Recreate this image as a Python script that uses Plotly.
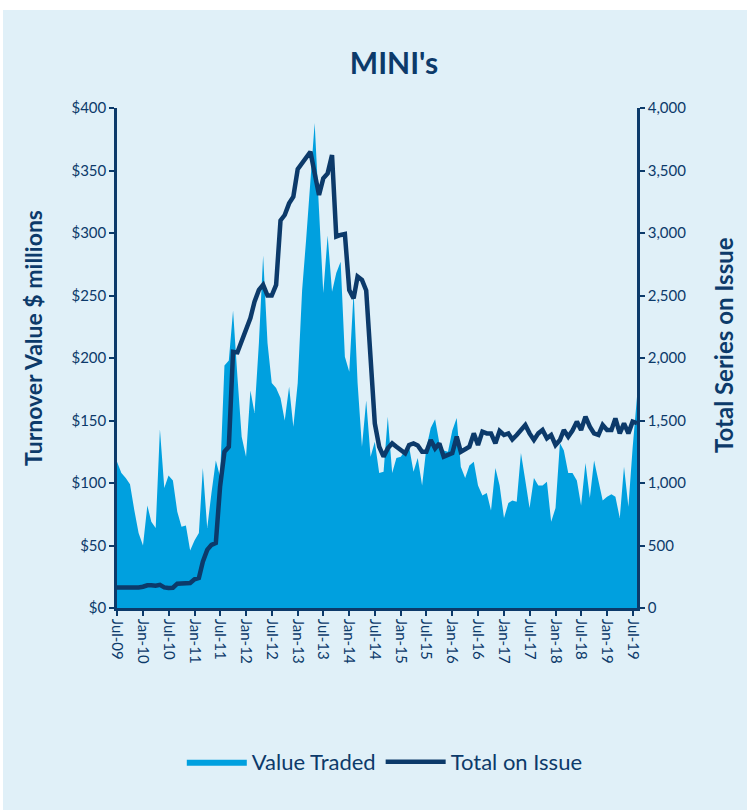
import pandas as pd
import plotly.graph_objects as go

# Monthly observations, Jul-09 .. Aug-19
months = pd.date_range("2009-07-01", periods=122, freq="MS")

value_traded = [
    117, 108, 104, 99, 78, 60, 50, 82, 69, 64, 143, 96, 106, 102, 77, 65, 66, 46, 54, 60,
    112, 64, 92, 118, 105, 194, 198, 238, 185, 137, 121, 174, 156, 212, 282, 212, 180, 176,
    168, 150, 177, 145, 180, 254, 294, 345, 388, 318, 252, 298, 253, 268, 277, 201, 189, 253,
    180, 129, 166,
    121, 133, 108, 109, 153, 108, 120, 121, 126, 129, 109, 120, 98, 128, 144, 151, 132, 126,
    125, 142,
    152, 113, 104, 114, 117, 98, 90, 92, 78, 112, 98, 72, 84, 86, 85, 124, 102, 80, 104, 98, 98,
    101, 69, 80, 132, 126, 108, 108, 102, 82, 116, 88, 118, 102, 86, 89, 91, 89, 72, 113, 81,
    128, 169,
]

total_on_issue = [
    165, 165, 163, 160, 165, 165, 170, 182, 182, 178, 185, 165, 160, 162, 195, 198, 195, 200,
    230, 240,
    370, 465, 505, 520, 970, 1250, 1290, 2050, 2045, 2130, 2225, 2320, 2450, 2545, 2585, 2500,
    2500, 2585, 3100, 3144, 3237, 3291, 3510, 3560, 3600, 3650, 3477, 3304, 3437, 3477, 3624,
    2971, 2984, 2992, 2544, 2477, 2651, 2624, 2540, 2050,
    1477, 1290, 1211, 1277, 1317, 1290, 1260, 1237, 1304, 1317, 1300, 1250, 1250, 1344, 1277,
    1317, 1211, 1224, 1240, 1371, 1250, 1270, 1290, 1397, 1304, 1411, 1397, 1397, 1317, 1416,
    1384, 1397, 1349, 1384, 1420, 1464, 1397, 1344, 1397, 1424, 1357, 1384, 1304, 1344, 1424,
    1371, 1420, 1491, 1424, 1531, 1451, 1397, 1384, 1464, 1424, 1424, 1517, 1397, 1477, 1397,
    1491, 1480,
]

left_ticks = [0, 50, 100, 150, 200, 250, 300, 350, 400]
left_labels = ["$0", "$50", "$100", "$150", "$200", "$250", "$300", "$350", "$400"]
right_ticks = [0, 500, 1000, 1500, 2000, 2500, 3000, 3500, 4000]
right_labels = ["0", "500", "1,000", "1,500", "2,000", "2,500", "3,000", "3,500", "4,000"]

NAVY = "#0C3A6A"
AREA = "#00A0DF"
BG = "#E0F0F8"
FONT = "Lato"

fig = go.Figure()
fig.add_trace(go.Scatter(
    x=months, y=value_traded, name="Value Traded", mode="lines",
    fill="tozeroy", fillcolor=AREA, line=dict(width=0, color=AREA),
    yaxis="y",
))
fig.add_trace(go.Scatter(
    x=months, y=total_on_issue, name="Total on Issue", mode="lines",
    line=dict(width=4.5, color=NAVY), yaxis="y2",
))

axis_common = dict(
    showgrid=False, zeroline=False, showline=True, linecolor=NAVY, linewidth=2.5,
    ticks="outside", ticklen=5, tickwidth=2, tickcolor=NAVY,
    tickfont=dict(size=15, color=NAVY),
)

fig.update_layout(
    width=747, height=810,
    margin=dict(l=117, r=110, t=108, b=202),
    paper_bgcolor=BG, plot_bgcolor=BG,
    font=dict(family=FONT, color=NAVY, size=15),
    title=dict(text="<b>MINI's</b>", x=394 / 747, xref="container", xanchor="center",
               y=1 - 63 / 810, yref="container", yanchor="middle",
               font=dict(size=30, color=NAVY, family=FONT)),
    xaxis=dict(
        type="date", range=[months[0], months[-1]],
        tick0="2009-07-01", dtick="M6", tickformat="%b-%y", tickangle=90,
        **axis_common,
    ),
    yaxis=dict(range=[0, 400], tickvals=left_ticks, ticktext=left_labels, **axis_common),
    yaxis2=dict(range=[0, 4000], tickvals=right_ticks, ticktext=right_labels,
                overlaying="y", side="right", **axis_common),
    legend=dict(orientation="h", x=0.515, xanchor="center", y=-0.308, yanchor="middle",
                font=dict(size=22, color=NAVY), bgcolor="rgba(0,0,0,0)", itemwidth=60),
    showlegend=True,
)

fig.add_annotation(text="<b>Turnover Value $ millions</b>", textangle=-90,
                   xref="paper", yref="paper", x=(33 - 117) / 520, y=(608 - 338) / 500,
                   xanchor="center", yanchor="middle", showarrow=False,
                   font=dict(size=23, color=NAVY, family=FONT))
fig.add_annotation(text="<b>Total Series on Issue</b>", textangle=-90,
                   xref="paper", yref="paper", x=(723 - 117) / 520, y=(608 - 345) / 500,
                   xanchor="center", yanchor="middle", showarrow=False,
                   font=dict(size=24, color=NAVY, family=FONT))

# white page margins around the light-blue panel
fig.add_shape(type="rect", xref="paper", yref="paper", layer="above",
              x0=(0 - 117) / 520, x1=(747 - 117) / 520, y0=(608 - 10) / 500, y1=(608 + 2) / 500,
              fillcolor="white", line=dict(width=0))
fig.add_shape(type="rect", xref="paper", yref="paper", layer="above",
              x0=(0 - 117) / 520, x1=(3 - 117) / 520, y0=(608 - 812) / 500, y1=(608 + 2) / 500,
              fillcolor="white", line=dict(width=0))

fig.write_html("out.html", config={"displayModeBar": False},
               post_script="document.body.style.margin='0';")
